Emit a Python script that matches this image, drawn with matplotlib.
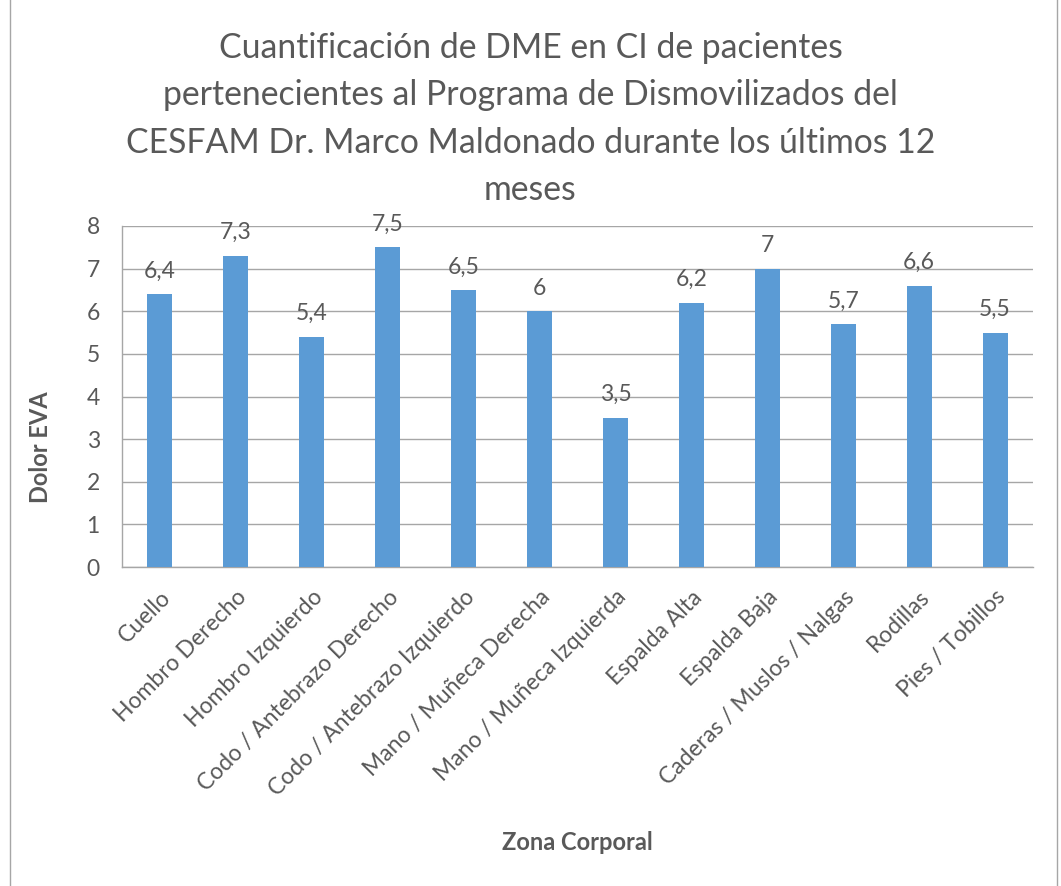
import matplotlib
matplotlib.use("Agg")
import matplotlib.pyplot as plt
from matplotlib.patches import Rectangle

categories = ["Cuello", "Hombro Derecho", "Hombro Izquierdo", "Codo / Antebrazo Derecho",
              "Codo / Antebrazo Izquierdo", "Mano / Muñeca Derecha", "Mano / Muñeca Izquierda",
              "Espalda Alta", "Espalda Baja", "Caderas / Muslos / Nalgas", "Rodillas", "Pies / Tobillos"]
values = [6.4, 7.3, 5.4, 7.5, 6.5, 6.0, 3.5, 6.2, 7.0, 5.7, 6.6, 5.5]
yticks = [0, 1, 2, 3, 4, 5, 6, 7, 8]

title = ("Cuantificación de DME en CI de pacientes\n"
         "pertenecientes al Programa de Dismovilizados del\n"
         "CESFAM Dr. Marco Maldonado durante los últimos 12\n"
         "meses")

plt.rcParams['font.family'] = ['Lato', 'DejaVu Sans']
TXT = "#595959"
BAR = "#5B9BD5"
GRID = "#A6A6A6"

W, H = 1061, 886
fig = plt.figure(figsize=(W / 100, H / 100), dpi=100)
ax = fig.add_axes([122 / W, 1 - 567 / H, (1033 - 122) / W, (567 - 226) / H])

x = list(range(len(categories)))
bars = ax.bar(x, values, width=0.33, color=BAR, zorder=3)
ax.set_xlim(-0.5, len(categories) - 0.5)
ax.set_ylim(0, 8)
ax.set_yticks(yticks)
ax.set_yticklabels([str(v) for v in yticks], fontsize=16.5, color=TXT)
ax.yaxis.grid(True, color=GRID, linewidth=1, zorder=0)
ax.set_xticks(x)
ax.set_xticklabels(categories, rotation=45, ha='right', va='top', rotation_mode='anchor',
                   fontsize=16.5, color=TXT)
ax.tick_params(axis='both', length=0)
ax.tick_params(axis='y', pad=16)
ax.tick_params(axis='x', pad=14)
for s in ['top', 'right']:
    ax.spines[s].set_visible(False)
for s in ['left', 'bottom']:
    ax.spines[s].set_color(GRID)
    ax.spines[s].set_linewidth(1)

for xi, v in zip(x, values):
    lab = ("%g" % v).replace('.', ',')
    ax.annotate(lab, (xi, v), xytext=(0, 9), textcoords='offset points',
                ha='center', va='bottom', fontsize=16.5, color=TXT)

fig.text(0.5, 1 - 119 / H, title, ha='center', va='center', fontsize=24.3, color=TXT,
         linespacing=1.6)
fig.text(40 / W, 1 - 447 / H, "Dolor EVA", rotation=90, ha='center', va='center',
         fontsize=17, fontweight='bold', color=TXT)
fig.text(577 / W, 1 - 843 / H, "Zona Corporal", ha='center', va='center',
         fontsize=17, fontweight='bold', color=TXT)

fig.patches.append(Rectangle((9.5 / W, -0.01), (1057 - 9.5) / W, 1.02,
                             transform=fig.transFigure, fill=False,
                             edgecolor="#A6A6A6", linewidth=1))

fig.savefig("out.png", dpi=100)
